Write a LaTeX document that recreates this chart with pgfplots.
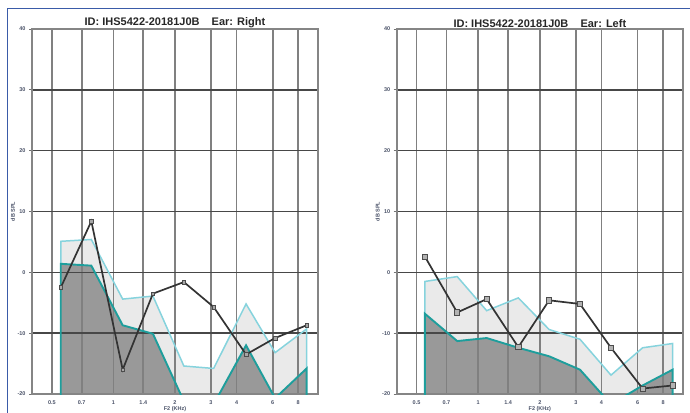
\documentclass[border=0pt]{standalone}
\usepackage{fontspec}
\setmainfont{Liberation Sans}
\usepackage{pgfplots}
\pgfplotsset{compat=1.18}
\definecolor{lcyan}{HTML}{86D3DD}
\definecolor{tealc}{HTML}{1E9E9C}
\definecolor{dfill}{HTML}{999999}
\definecolor{lfill}{HTML}{EAEAEA}
\definecolor{framec}{HTML}{3A5BA8}
\definecolor{tlab}{HTML}{4A5268}
\begin{document}
\begin{tikzpicture}
\useasboundingbox (0pt,0pt) rectangle (690pt,412pt);
\draw[framec, line width=1pt] (7pt,-5pt) -- (7pt,403pt) -- (700pt,403pt);
% ---------- Right ear: fills ----------
\begin{axis}[scale only axis, width=286pt, height=365pt, anchor=south west, at={(32pt,18pt)},
  xmode=log, xmin=0.4, xmax=10, ymin=-20, ymax=40, hide axis]
\addplot[fill=lfill, draw=none] coordinates {
 (0.553,-25) (0.553,5.1) (0.78,5.4) (1.11,-4.4) (1.56,-3.9) (2.21,-15.4) (3.09,-15.8) (4.45,-5.2) (6.17,-13.2) (8.8,-9.3) (8.8,-25)};
\addplot[fill=dfill, draw=none] coordinates {
 (0.553,-25) (0.553,1.4) (0.78,1.1) (1.11,-8.7) (1.56,-10.1) (2.21,-21.2) (3.09,-21.7) (4.45,-12.0) (6.17,-20.7) (8.8,-15.8) (8.8,-25)};
\end{axis}
% ---------- Right ear: grid and lines ----------
\begin{axis}[scale only axis, width=286pt, height=365pt, anchor=south west, at={(32pt,18pt)},
  xmode=log, xmin=0.4, xmax=10, ymin=-20, ymax=40,
  xtick={0.5,0.7,1,1.4,2,3,4,6,8},
  xticklabels={0.5,0.7,1,1.4,2,3,4,6,8},
  ytick={-20,-10,0,10,20,30,40},
  yticklabels={-20,-10,0,10,20,30,40},
  ytick pos=left,
  grid=major,
  x grid style={line width=1.8pt, color=black!50},
  y grid style={line width=1.5pt, color=black!72},
  axis line style={line width=1.6pt, color=black!48},
  ticklabel style={font=\fontsize{5.5}{6}\selectfont\bfseries, color=tlab},
  xtick style={draw=none},
  ytick style={color=black!55, line width=0.8pt},
  tick align=outside, major tick length=3pt,
  xlabel={F2 (KHz)}, ylabel={dB SPL},
  label style={font=\fontsize{5.5}{6}\selectfont\bfseries, color=tlab},
  xlabel style={at={(axis description cs:0.5,0)}, anchor=center, yshift=-15pt},
  ylabel style={at={(axis description cs:0,0.5)}, anchor=center, yshift=19pt},
  every axis title shift=0pt,
  title style={font=\fontsize{11}{12}\selectfont\bfseries, color=black!85, at={(axis description cs:0.5,1)}, anchor=south, inner sep=1pt},
  title={ID: IHS5422-20181J0B\hspace{1.1em}Ear: Right}]
\addplot[lcyan, line width=1.5pt] coordinates {
 (0.553,1.4) (0.553,5.1) (0.78,5.4) (1.11,-4.4) (1.56,-3.9) (2.21,-15.4) (3.09,-15.8) (4.45,-5.2) (6.17,-13.2) (8.8,-9.3) (8.8,-15.8)};
\addplot[tealc, line width=1.9pt] coordinates {
 (0.553,-25) (0.553,1.4) (0.78,1.1) (1.11,-8.7) (1.56,-10.1) (2.21,-21.2) (3.09,-21.7) (4.45,-12.0) (6.17,-20.7) (8.8,-15.8) (8.8,-25)};
\addplot[black!80, line width=1.7pt, mark=square*, mark size=1.8pt, mark options={fill=black!35, draw=black!70, line width=0.6pt}] coordinates {
 (0.553,-2.5) (0.78,8.4) (1.11,-16.0) (1.56,-3.5) (2.21,-1.6) (3.09,-5.7) (4.45,-13.5) (6.17,-10.8) (8.8,-8.7)};
\end{axis}
% ---------- Left ear: fills ----------
\begin{axis}[scale only axis, width=286.3pt, height=365pt, anchor=south west, at={(396.7pt,18pt)},
  xmode=log, xmin=0.4, xmax=10, ymin=-20, ymax=40, hide axis]
\addplot[fill=lfill, draw=none] coordinates {
 (0.549,-25) (0.549,-1.5) (0.79,-0.7) (1.10,-6.3) (1.57,-4.2) (2.22,-9.4) (3.14,-11.0) (4.45,-16.9) (6.35,-12.4) (8.9,-11.7) (8.9,-25)};
\addplot[fill=dfill, draw=none] coordinates {
 (0.549,-25) (0.549,-6.8) (0.79,-11.3) (1.10,-10.8) (1.57,-12.4) (2.22,-13.8) (3.14,-16.0) (4.45,-21.7) (6.35,-18.6) (8.9,-16.0) (8.9,-25)};
\end{axis}
% ---------- Left ear: grid and lines ----------
\begin{axis}[scale only axis, width=286.3pt, height=365pt, anchor=south west, at={(396.7pt,18pt)},
  xmode=log, xmin=0.4, xmax=10, ymin=-20, ymax=40,
  xtick={0.5,0.7,1,1.4,2,3,4,6,8},
  xticklabels={0.5,0.7,1,1.4,2,3,4,6,8},
  ytick={-20,-10,0,10,20,30,40},
  yticklabels={-20,-10,0,10,20,30,40},
  ytick pos=left,
  grid=major,
  x grid style={line width=1.8pt, color=black!50},
  y grid style={line width=1.5pt, color=black!72},
  axis line style={line width=1.6pt, color=black!48},
  ticklabel style={font=\fontsize{5.5}{6}\selectfont\bfseries, color=tlab},
  xtick style={draw=none},
  ytick style={color=black!55, line width=0.8pt},
  tick align=outside, major tick length=3pt,
  xlabel={F2 (KHz)}, ylabel={dB SPL},
  label style={font=\fontsize{5.5}{6}\selectfont\bfseries, color=tlab},
  xlabel style={at={(axis description cs:0.5,0)}, anchor=center, yshift=-15pt},
  ylabel style={at={(axis description cs:0,0.5)}, anchor=center, yshift=19pt},
  every axis title shift=0pt,
  title style={font=\fontsize{11}{12}\selectfont\bfseries, color=black!85, at={(axis description cs:0.5,1)}, anchor=south, inner sep=1pt},
  title={ID: IHS5422-20181J0B\hspace{1.1em}Ear: Left}]
\addplot[lcyan, line width=1.5pt] coordinates {
 (0.549,-25) (0.549,-1.5) (0.79,-0.7) (1.10,-6.3) (1.57,-4.2) (2.22,-9.4) (3.14,-11.0) (4.45,-16.9) (6.35,-12.4) (8.9,-11.7) (8.9,-16.0)};
\addplot[tealc, line width=1.9pt] coordinates {
 (0.549,-25) (0.549,-6.8) (0.79,-11.3) (1.10,-10.8) (1.57,-12.4) (2.22,-13.8) (3.14,-16.0) (4.45,-21.7) (6.35,-18.6) (8.9,-16.0) (8.9,-25)};
\addplot[black!80, line width=1.7pt, mark=square*, mark size=2.6pt, mark options={fill=black!30, draw=black!70, line width=0.8pt}] coordinates {
 (0.549,2.6) (0.79,-6.6) (1.10,-4.4) (1.57,-12.3) (2.22,-4.6) (3.14,-5.2) (4.45,-12.4) (6.35,-19.1) (8.9,-18.6)};
\end{axis}
\end{tikzpicture}
\end{document}
